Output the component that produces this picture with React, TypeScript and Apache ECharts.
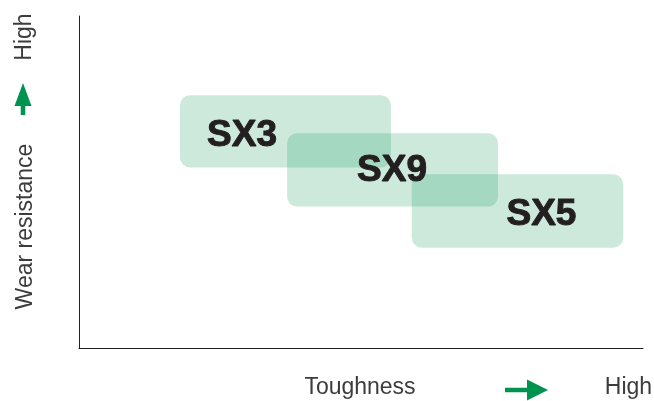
import React, { useEffect, useRef } from "react";
import * as echarts from "echarts";

// Grades: box extents on toughness (x) and wear resistance (y), plus label anchor
const grades = ["SX3", "SX9", "SX5"];
const toughMin = [17.9, 36.9, 59.0];
const toughMax = [55.3, 74.3, 96.5];
const wearMin = [54.4, 42.6, 30.2];
const wearMax = [76.1, 64.7, 52.3];
const labelTough = [28.9, 55.5, 82.0];
const labelWear = [64.6, 54.0, 40.8];

const xAxisTitle = "Toughness";
const yAxisTitle = "Wear resistance";
const highText = "High";

const GREEN = "#00934f";
const BOX = "rgba(0,146,80,0.2)";
const TEXT = "#3c3c3c";
const LABEL = "#231f20";

export default function App() {
  const ref = useRef<HTMLDivElement>(null);
  useEffect(() => {
    if (!ref.current) return;
    const chart = echarts.init(ref.current, undefined, { renderer: "svg" });
    const data = grades.map((g, i) => [
      toughMin[i],
      toughMax[i],
      wearMin[i],
      wearMax[i],
      labelTough[i],
      labelWear[i],
      g,
    ]);
    chart.setOption({
      animation: false,
      grid: { left: 79, right: 11, top: 16, bottom: 53 },
      xAxis: {
        type: "value",
        min: 0,
        max: 100,
        axisLine: { show: true, lineStyle: { color: LABEL, width: 1 } },
        axisTick: { show: false },
        axisLabel: { show: false },
        splitLine: { show: false },
      },
      yAxis: {
        type: "value",
        min: 0,
        max: 100,
        axisLine: { show: true, lineStyle: { color: LABEL, width: 1 } },
        axisTick: { show: false },
        axisLabel: { show: false },
        splitLine: { show: false },
      },
      series: [
        {
          type: "custom",
          encode: { x: [0, 1], y: [2, 3] },
          data,
          renderItem: (params: any, api: any) => {
            const tl = api.coord([api.value(0), api.value(3)]);
            const br = api.coord([api.value(1), api.value(2)]);
            const lp = api.coord([api.value(4), api.value(5)]);
            const name = data[params.dataIndex][6] as string;
            return {
              type: "group",
              children: [
                {
                  type: "rect",
                  shape: {
                    x: tl[0],
                    y: tl[1],
                    width: br[0] - tl[0],
                    height: br[1] - tl[1],
                    r: 10,
                  },
                  style: { fill: BOX },
                  z2: 1,
                },
                {
                  type: "text",
                  x: lp[0],
                  y: lp[1],
                  z2: 10,
                  style: {
                    text: name,
                    fill: LABEL,
                    stroke: LABEL,
                    lineWidth: 1,
                    font: "bold 37px 'Liberation Sans', Arial, sans-serif",
                    align: "center",
                    verticalAlign: "middle",
                  },
                },
              ],
            };
          },
        },
      ],
      graphic: [
        {
          type: "text",
          x: 23.5,
          y: 226.5,
          rotation: Math.PI / 2,
          style: {
            text: yAxisTitle,
            fill: TEXT,
            font: "23px 'Liberation Sans', Arial, sans-serif",
            align: "center",
            verticalAlign: "middle",
          },
        },
        {
          type: "text",
          x: 23,
          y: 37,
          rotation: Math.PI / 2,
          style: {
            text: highText,
            fill: TEXT,
            font: "23px 'Liberation Sans', Arial, sans-serif",
            align: "center",
            verticalAlign: "middle",
          },
        },
        {
          type: "polygon",
          shape: {
            points: [
              [23, 83],
              [31.5, 106],
              [25.3, 106],
              [25.3, 115],
              [20.7, 115],
              [20.7, 106],
              [14.5, 106],
            ],
          },
          style: { fill: GREEN },
        },
        {
          type: "text",
          x: 360,
          y: 386,
          style: {
            text: xAxisTitle,
            fill: TEXT,
            font: "23px 'Liberation Sans', Arial, sans-serif",
            align: "center",
            verticalAlign: "middle",
          },
        },
        {
          type: "text",
          x: 628.5,
          y: 386,
          style: {
            text: highText,
            fill: TEXT,
            font: "23px 'Liberation Sans', Arial, sans-serif",
            align: "center",
            verticalAlign: "middle",
          },
        },
        {
          type: "polygon",
          shape: {
            points: [
              [505, 387.7],
              [527, 387.7],
              [527, 379.5],
              [548, 390],
              [527, 400.5],
              [527, 392.3],
              [505, 392.3],
            ],
          },
          style: { fill: GREEN },
        },
      ],
    });
    return () => chart.dispose();
  }, []);
  return (
    <div
      ref={ref}
      style={{ position: "fixed", left: 0, top: 0, width: 654, height: 401 }}
    />
  );
}
